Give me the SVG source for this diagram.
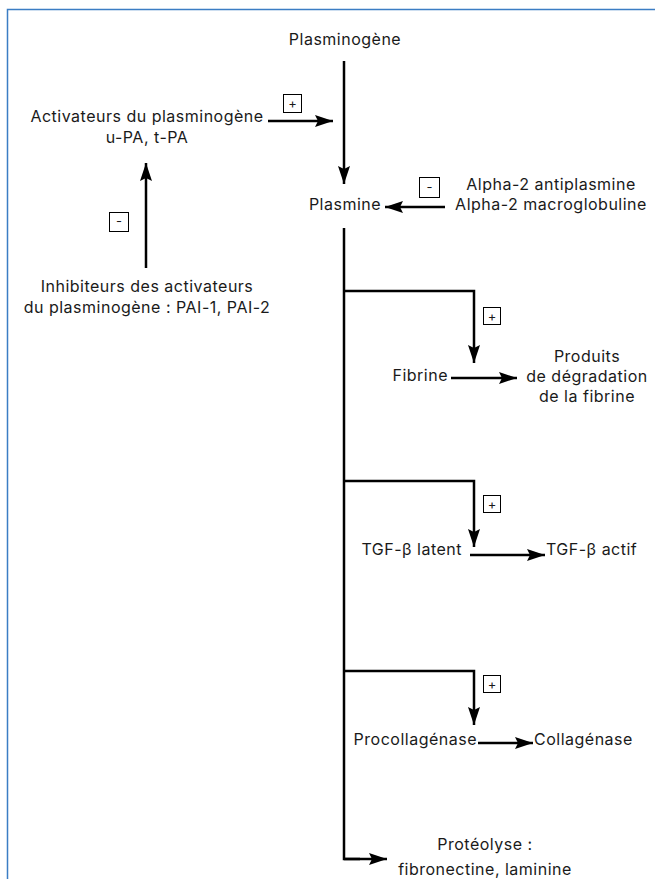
<svg xmlns="http://www.w3.org/2000/svg" width="655" height="879" viewBox="0 0 655 879">
<defs>
<marker id="ah" markerUnits="userSpaceOnUse" markerWidth="20" markerHeight="12" refX="18" refY="6" orient="auto">
<path d="M0,0 L18,6 L0,12 L3,6 Z" fill="#000"/>
</marker>
<style>
text{font-family:Inter,"Open Sans",sans-serif;font-size:16px;letter-spacing:0.5px;fill:#1a1a1a}
.c{text-anchor:middle}
.e{text-anchor:end}
.ln{fill:none;stroke:#000;stroke-width:2.5}
.ar{fill:none;stroke:#000;stroke-width:2.5;marker-end:url(#ah)}
.bx{fill:#fff;stroke:#000;stroke-width:1}
.sg{font-size:13px;letter-spacing:0;text-anchor:middle}
</style>
</defs>
<rect width="655" height="879" fill="#fff"/>
<path d="M7.5,879 V9.5 H655" fill="none" stroke="#3b7dc4" stroke-width="1.5"/>

<g id="connectors">
<line class="ar" x1="344" y1="61" x2="344" y2="184"/>
<line class="ar" x1="268" y1="121" x2="333" y2="121"/>
<line class="ar" x1="146" y1="268" x2="146" y2="163"/>
<line class="ar" x1="445" y1="207" x2="385" y2="207"/>
<polyline class="ln" points="344,228 344,859 360,859"/>
<line class="ar" x1="344" y1="859" x2="387" y2="859"/>
<polyline class="ar" points="344,291 474,291 474,363"/>
<line class="ar" x1="451" y1="378" x2="517" y2="378"/>
<polyline class="ar" points="344,481 474,481 474,547"/>
<line class="ar" x1="470" y1="555" x2="545" y2="555"/>
<polyline class="ar" points="344,671 474,671 474,725"/>
<line class="ar" x1="478" y1="743" x2="533" y2="743"/>
</g>

<g id="sign-plus-activateurs"><rect class="bx" x="283.5" y="94.5" width="18" height="18"/><text class="sg" x="292.5" y="108">+</text></g>
<g id="sign-minus-inhibiteurs"><rect class="bx" x="109.5" y="212.5" width="19" height="19"/><text class="sg" x="119" y="226">-</text></g>
<g id="sign-minus-alpha"><rect class="bx" x="419.5" y="177.5" width="20" height="20"/><text class="sg" x="429.5" y="191.5">-</text></g>
<g id="sign-plus-fibrine"><rect class="bx" x="483.5" y="307.5" width="17" height="17"/><text class="sg" x="492" y="320.5">+</text></g>
<g id="sign-plus-tgf"><rect class="bx" x="483.5" y="495.5" width="17" height="17"/><text class="sg" x="492" y="508.5">+</text></g>
<g id="sign-plus-procoll"><rect class="bx" x="483.5" y="675.5" width="17" height="17"/><text class="sg" x="492" y="688.5">+</text></g>

<g id="plasminogene"><text class="c" x="345" y="45">Plasminogène</text></g>
<g id="activateurs"><text class="c" x="147" y="122">Activateurs du plasminogène</text><text class="c" x="147" y="143">u-PA, t-PA</text></g>
<g id="inhibiteurs"><text class="c" x="147" y="292">Inhibiteurs des activateurs</text><text class="c" x="147" y="313">du plasminogène : PAI-1, PAI-2</text></g>
<g id="plasmine"><text class="c" x="345" y="210">Plasmine</text></g>
<g id="alpha2"><text class="c" x="551" y="190">Alpha-2 antiplasmine</text><text class="c" x="551" y="210">Alpha-2 macroglobuline</text></g>
<g id="fibrine"><text class="e" x="448" y="381">Fibrine</text></g>
<g id="produits"><text class="c" x="587" y="362">Produits</text><text class="c" x="587" y="382">de dégradation</text><text class="c" x="587" y="402">de la fibrine</text></g>
<g id="tgf-latent"><text class="e" x="462" y="555">TGF-β latent</text></g>
<g id="tgf-actif"><text x="546" y="555">TGF-β actif</text></g>
<g id="procollagenase"><text class="e" x="477" y="745">Procollagénase</text></g>
<g id="collagenase"><text x="534" y="745">Collagénase</text></g>
<g id="proteolyse"><text class="c" x="485" y="850">Protéolyse :</text><text class="c" x="485" y="875">fibronectine, laminine</text></g>
</svg>
